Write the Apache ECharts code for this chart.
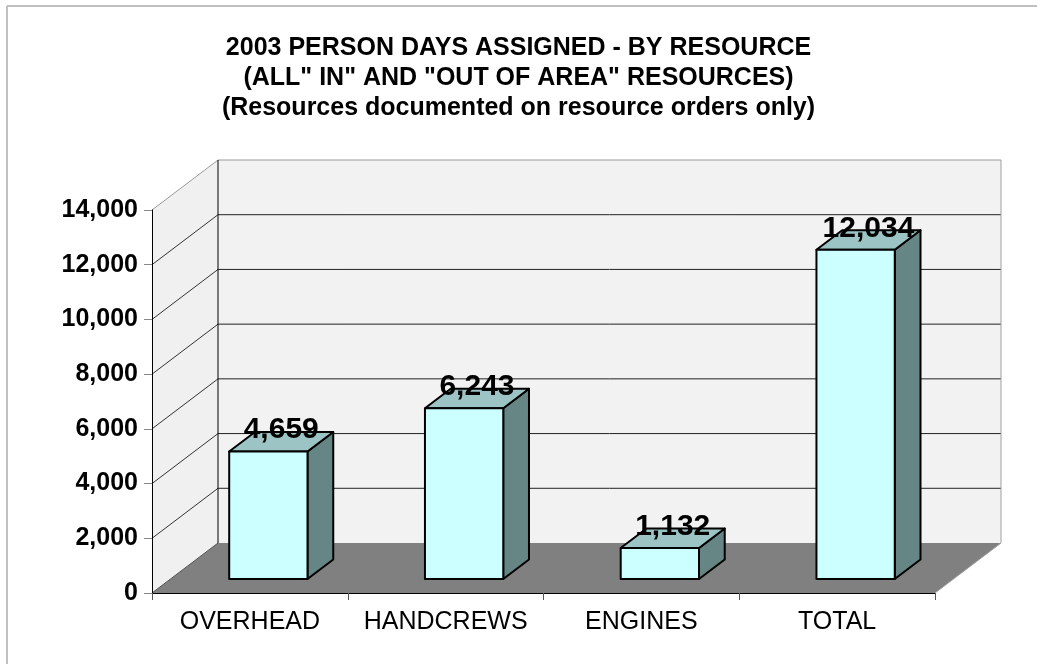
<!DOCTYPE html>
<html>
<head>
<meta charset="utf-8">
<script src="https://cdn.jsdelivr.net/npm/echarts@6/dist/echarts.min.js"></script>
<style>
html,body{margin:0;padding:0;background:#fff;}
#chart{width:1037px;height:664px;}
</style>
</head>
<body>
<div id="chart"></div>
<script>
var categories = ['OVERHEAD', 'HANDCREWS', 'ENGINES', 'TOTAL'];
var personDays = [4659, 6243, 1132, 12034];
var yTicks = [0, 2000, 4000, 6000, 8000, 10000, 12000, 14000];
var titleLines = [
  '2003 PERSON DAYS ASSIGNED - BY RESOURCE',
  '(ALL" IN" AND "OUT OF AREA" RESOURCES)',
  '(Resources documented on resource orders only)'
];

var FONT = "'Liberation Sans', Arial, sans-serif";
var DX = 66, DY = -50;          // depth offset of the 3D box (pixels)
var BAR_FRONT = 0.28, BAR_BACK = 0.67; // bar depth placement as fraction of depth
var BAR_WIDTH_FRAC = 0.40;

function fmt(v) { return v.toLocaleString('en-US'); }

var chart = echarts.init(document.getElementById('chart'), null, {renderer: 'canvas'});

function renderWalls(params, api) {
  var cs = params.coordSys;
  var xl = cs.x, xr = cs.x + cs.width;
  var yMax = yTicks[yTicks.length - 1];
  var yb0 = api.coord([0, 0])[1];
  var ybT = api.coord([0, yMax])[1];
  var children = [];
  // back wall
  children.push({type: 'polygon', shape: {points: [[xl + DX, ybT + DY], [xr + DX, ybT + DY], [xr + DX, yb0 + DY], [xl + DX, yb0 + DY]]},
    style: {fill: '#f2f2f2', stroke: null}});
  // side wall
  children.push({type: 'polygon', shape: {points: [[xl, ybT], [xl + DX, ybT + DY], [xl + DX, yb0 + DY], [xl, yb0]]},
    style: {fill: '#f0f0f0', stroke: null}});
  // floor
  children.push({type: 'polygon', shape: {points: [[xl, yb0], [xr, yb0], [xr + DX, yb0 + DY], [xl + DX, yb0 + DY]]},
    style: {fill: '#808080', stroke: null}});
  // gridlines
  yTicks.forEach(function (v) {
    var y = api.coord([0, v])[1];
    var isTop = v === yMax;
    if (v !== 0) {
      children.push({type: 'line', shape: {x1: xl + DX, y1: y + DY, x2: xr + DX, y2: y + DY},
        style: {stroke: isTop ? '#999999' : '#222222', lineWidth: 1}});
    }
    children.push({type: 'line', shape: {x1: xl, y1: y, x2: xl + DX, y2: y + DY},
      style: {stroke: v === 0 ? '#555555' : (isTop ? '#999999' : '#333333'), lineWidth: 1}});
  });
  // back wall left edge and right edge
  children.push({type: 'line', shape: {x1: xl + DX, y1: ybT + DY, x2: xl + DX, y2: yb0 + DY},
    style: {stroke: '#000000', lineWidth: 1}});
  children.push({type: 'line', shape: {x1: xr + DX, y1: ybT + DY, x2: xr + DX, y2: yb0 + DY},
    style: {stroke: '#a0a0a0', lineWidth: 1}});
  // floor right edge
  children.push({type: 'line', shape: {x1: xr, y1: yb0, x2: xr + DX, y2: yb0 + DY},
    style: {stroke: '#a0a0a0', lineWidth: 1}});
  return {type: 'group', children: children};
}

function renderBar(params, api) {
  var idx = api.value(0);
  var val = api.value(1);
  var base = api.coord([idx, 0]);
  var top = api.coord([idx, val]);
  var w = api.size([1, 0])[0] * BAR_WIDTH_FRAC;
  var fx = base[0] + DX * BAR_FRONT, fyB = base[1] + DY * BAR_FRONT, fyT = top[1] + DY * BAR_FRONT;
  var ddx = DX * (BAR_BACK - BAR_FRONT), ddy = DY * (BAR_BACK - BAR_FRONT);
  var x0 = fx - w / 2, x1 = fx + w / 2;
  var stroke = {stroke: '#000000', lineWidth: 2, lineJoin: 'round'};
  return {
    type: 'group',
    children: [
      {type: 'polygon', shape: {points: [[x1, fyB], [x1 + ddx, fyB + ddy], [x1 + ddx, fyT + ddy], [x1, fyT]]},
        style: Object.assign({fill: '#668585'}, stroke)},
      {type: 'polygon', shape: {points: [[x0, fyT], [x1, fyT], [x1 + ddx, fyT + ddy], [x0 + ddx, fyT + ddy]]},
        style: Object.assign({fill: '#9cc4c4'}, stroke)},
      {type: 'rect', shape: {x: x0, y: fyT, width: w, height: fyB - fyT},
        style: Object.assign({fill: '#ccffff'}, stroke)},
      {type: 'text', x: fx + ddx / 2, y: fyT + ddy - 2,
        style: {text: fmt(val), fill: '#000', font: 'bold 30px ' + FONT, align: 'center', verticalAlign: 'middle'}}
    ]
  };
}

var option = {
  backgroundColor: '#ffffff',
  animation: false,
  title: {
    text: titleLines.join('\n'),
    left: 'center',
    top: 28,
    textStyle: {fontFamily: FONT, fontWeight: 'bold', fontSize: 25, lineHeight: 30, color: '#000'}
  },
  graphic: [
    {type: 'line', shape: {x1: 7, y1: 6, x2: 1037, y2: 6}, style: {stroke: '#c0c0c0', lineWidth: 2}, silent: true, z: -10},
    {type: 'line', shape: {x1: 7, y1: 6, x2: 7, y2: 664}, style: {stroke: '#c0c0c0', lineWidth: 2}, silent: true, z: -10}
  ],
  grid: {left: 152, right: 102, top: 210, bottom: 71, containLabel: false},
  xAxis: {
    type: 'category',
    data: categories,
    z: 5,
    axisLine: {show: true, lineStyle: {color: '#000', width: 1}},
    axisTick: {show: true, length: 7, interval: 0, lineStyle: {color: '#555'}},
    axisLabel: {fontFamily: FONT, fontSize: 25, color: '#000', margin: 17, interval: 0, hideOverlap: false},
    splitLine: {show: false}
  },
  yAxis: {
    type: 'value',
    min: 0, max: 14000, interval: 2000,
    z: 5,
    axisLine: {show: true, lineStyle: {color: '#000', width: 1}},
    axisTick: {show: true, length: 8, lineStyle: {color: '#888'}},
    axisLabel: {fontFamily: FONT, fontSize: 25, fontWeight: 'bold', color: '#000', margin: 14,
      formatter: function (v) { return fmt(v); }},
    splitLine: {show: false}
  },
  series: [
    {type: 'custom', name: 'walls', clip: false, z: 1, silent: true,
      renderItem: renderWalls, data: [[0, 0]]},
    {type: 'custom', name: 'Person days', clip: false, z: 3,
      renderItem: renderBar,
      encode: {x: 0, y: 1},
      data: personDays.map(function (v, i) { return [i, v]; })}
  ]
};
chart.setOption(option);
</script>
</body>
</html>
